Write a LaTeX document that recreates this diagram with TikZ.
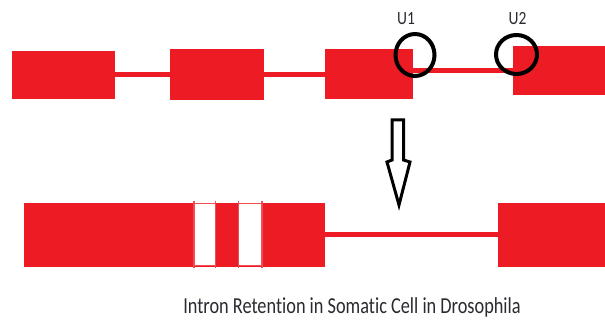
\documentclass[tikz,border=0pt]{standalone}
\usepackage{fontspec}
\usepackage{graphicx}
\setmainfont{Carlito}[Ligatures={NoCommon}]
\usepackage{tikz}
\usetikzlibrary{shapes.geometric}
\definecolor{exonred}{HTML}{ED1C24}
\definecolor{edgered}{HTML}{F24D55}
\definecolor{labelgray}{HTML}{2A2A30}

\begin{document}
\begin{tikzpicture}[x=1pt,y=-1pt,
    exon/.style={fill=exonred,inner sep=0pt,outer sep=0pt},
    intron/.style={exonred,line width=5pt},
    site/.style={draw=black,line width=4pt,ellipse,inner sep=0pt},
    sitelabel/.style={anchor=base,text=labelgray,font=\fontsize{15.5}{17}\selectfont}]
    \useasboundingbox (0,0) rectangle (605,320);
    % pre-mRNA
    \node[exon,minimum width=103pt,minimum height=48pt] (ex1) at (63.5,75) {};
    \node[exon,minimum width=94pt,minimum height=51pt] (ex2) at (217,74.5) {};
    \node[exon,minimum width=88pt,minimum height=50pt] (ex3) at (369,74) {};
    \node[exon,minimum width=102pt,minimum height=49pt] (ex4) at (564,70.5) {};
    \draw[intron] (ex1.east) -- (ex1.east -| ex2.west);
    \draw[intron] (ex2.east) -- (ex2.east -| ex3.west);
    \draw[intron] (ex4.west -| ex3.east) -- (ex4.west);
    \node[site,minimum width=39pt,minimum height=42pt] (u1) at (415,55) {};
    \node[site,minimum width=41pt,minimum height=39pt] (u2) at (516.5,54.5) {};
    \node[sitelabel] (lu1) at (406,25) {\scalebox{1}[1.2]{U1}};
    \node[sitelabel] (lu2) at (517.5,25) {\scalebox{1}[1.2]{U2}};
    % arrow
    \draw[line width=3pt,line join=miter] (392,120) -- (403.5,120) -- (403.5,160) -- (410,162)
      -- (399,205) -- (387,162) -- (392,160) -- cycle;
    % retained intron
    \node[exon,minimum width=301pt,minimum height=64pt] (exA) at (174.5,235) {};
    \node[exon,minimum width=117pt,minimum height=64pt] (exB) at (556.5,235) {};
    \draw[intron] (exA.east) -- (exB.west);
    \foreach \xa/\xb in {194/215.5,238.5/262} {
      \filldraw[fill=white,draw=edgered,line width=1.5pt] (\xa,203.5) rectangle (\xb,265.5);
      \draw[edgered,line width=1.5pt] (\xa,201) -- (\xa,268) (\xb,201) -- (\xb,268);
    }
    \node[anchor=base,text=labelgray,font=\fontsize{18.3}{20}\selectfont] (caption) at (352,314)
      {\scalebox{1}[1.25]{Intron Retention in Somatic Cell in Drosophila}};
\end{tikzpicture}
\end{document}
